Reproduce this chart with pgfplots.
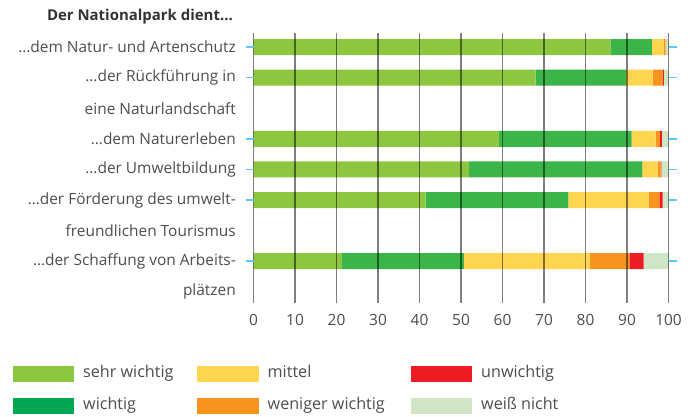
\documentclass[border=0pt]{standalone}
\usepackage{fontspec}
\setmainfont{Open Sans}
\usepackage{pgfplots}
\usepackage{pgfplotstable}
\pgfplotsset{compat=1.18}
\definecolor{cSehr}{HTML}{8DC63F}
\definecolor{cWichtig}{HTML}{3BB54A}
\definecolor{cWichtigL}{HTML}{00A651}
\definecolor{cMittel}{HTML}{FFD54F}
\definecolor{cWeniger}{HTML}{F7941D}
\definecolor{cUn}{HTML}{ED1C24}
\definecolor{cWeiss}{HTML}{CFE5C5}
\definecolor{tickblue}{HTML}{5BC8F5}
\definecolor{labelgray}{HTML}{4D4D4D}
\pgfplotstableread{
y a b c d e f
1 86.0 10.0 2.9 0.4 0.0 0.7
2 68.0 21.7 6.5 2.4 0.3 1.1
4 59.1 32.0 5.8 1.0 0.5 1.6
5 51.9 41.8 3.7 0.7 0.2 1.7
6 41.5 34.4 19.3 2.6 0.8 1.4
8 21.3 29.4 30.3 9.6 3.4 6.0
}\data
\begin{document}
\begin{tikzpicture}
\path[use as bounding box] (0bp,0bp) rectangle (696bp,-417bp);
\node[anchor=east, inner sep=0pt, font=\fontsize{15}{18}\selectfont\bfseries, text=black!80] at (233bp,-17bp) {Der Nationalpark dient…};
\begin{axis}[
  at={(253.5bp,-303bp)}, anchor=south west,
  scale only axis, width=415bp, height=270bp,
  xmin=0, xmax=100, ymin=0.5425, ymax=9.366, y dir=reverse,
  xbar stacked, bar width=16bp,
  axis on top,
  axis line style={draw=none},
  xtick={0,10,...,100}, xmajorgrids,
  grid style={black, opacity=0.5, line width=1.3bp},
  xtick pos=bottom, xtick style={draw=none},
  ytick={1,...,9},
  yticklabels={…dem Natur- und Artenschutz,…der Rückführung in,eine Naturlandschaft,…dem Naturerleben,…der Umweltbildung,…der Förderung des umwelt-,freundlichen Tourismus,…der Schaffung von Arbeits-,plätzen},
  ytick style={draw=none},
  extra y ticks={1,2,4,5,6,8}, extra y tick labels={},
  extra y tick style={ytick style={draw=tickblue, line width=1.6bp}},
  tick align=outside, major tick length=8bp,
  /pgf/number format/assume math mode=true,
  every tick label/.append style={font=\fontsize{15.5}{18}\selectfont, text=labelgray},
  yticklabel style={inner sep=0pt, xshift=-9.5bp},
  xticklabel style={inner sep=0pt, yshift=-3bp},
  legend columns=3,
  legend cell align=left,
  legend image code/.code={\fill[#1, draw=none] (0bp,-8bp) rectangle (61.5bp,8bp);},
  legend style={draw=none, fill=none, inner sep=0pt, outer sep=0pt,
    at={(axis cs:-58.02,11.44)}, anchor=north west,
    column sep=0pt, row sep=16bp,
    nodes={inner sep=0pt, text height=11bp, text depth=4bp, font=\fontsize{16.2}{18}\selectfont, text=labelgray}},
]
\addplot[fill=cSehr, draw=none, forget plot] table[x=a, y=y] {\data};
\addplot[fill=cWichtig, draw=none, forget plot] table[x=b, y=y] {\data};
\addplot[fill=cMittel, draw=none, forget plot] table[x=c, y=y] {\data};
\addplot[fill=cWeniger, draw=none, forget plot] table[x=d, y=y] {\data};
\addplot[fill=cUn, draw=none, forget plot] table[x=e, y=y] {\data};
\addplot[fill=cWeiss, draw=none, forget plot] table[x=f, y=y] {\data};
\addlegendimage{fill=cSehr}
\addlegendentry{\makebox[123bp][l]{\hspace{9bp}sehr wichtig}}
\addlegendimage{fill=cMittel}
\addlegendentry{\makebox[152bp][l]{\hspace{9bp}mittel}}
\addlegendimage{fill=cUn}
\addlegendentry{\makebox[100bp][l]{\hspace{9bp}unwichtig}}
\addlegendimage{fill=cWichtigL}
\addlegendentry{\makebox[123bp][l]{\hspace{9bp}wichtig}}
\addlegendimage{fill=cWeniger}
\addlegendentry{\makebox[152bp][l]{\hspace{9bp}weniger wichtig}}
\addlegendimage{fill=cWeiss}
\addlegendentry{\makebox[100bp][l]{\hspace{9bp}weiß nicht}}
\end{axis}
\end{tikzpicture}
\end{document}
